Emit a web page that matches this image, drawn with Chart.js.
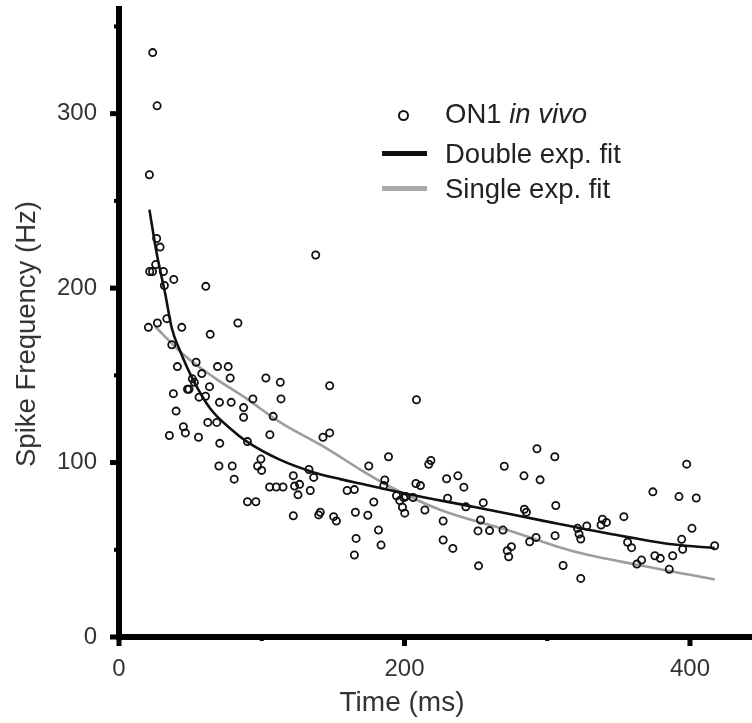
<!DOCTYPE html>
<html>
<head>
<meta charset="utf-8">
<script src="https://cdn.jsdelivr.net/npm/chart.js@4/dist/chart.umd.min.js"></script>
<style>
  body { margin: 0; background: #fff; overflow: hidden; }
  #wrap { position: relative; width: 752px; height: 723px; overflow: hidden; font-family: "Liberation Sans", Arial, Helvetica, sans-serif; }
  #chart-spikes { display: block; }
  .legend-row { position: absolute; left: 445px; height: 30px; line-height: 30px; font-size: 27.5px; color: #222; white-space: nowrap; }
  .legend-line { position: absolute; left: 382px; width: 45px; height: 5px; }
  .legend-dot { position: absolute; left: 398px; top: 110px; width: 7px; height: 7px; border: 2px solid #111; border-radius: 50%; }
  .y-title { position: absolute; left: 26px; top: 334px; transform: translate(-50%, -50%) rotate(-90deg); font-size: 27.5px; color: #333; white-space: nowrap; }
  .x-title { position: absolute; left: 402px; top: 702px; transform: translate(-50%, -50%); font-size: 28px; color: #333; white-space: nowrap; }
</style>
</head>
<body>
<div id="wrap">
  <!-- canvas is a little wider than the page: Chart.js keeps a few px free on the right,
       and the x axis in the figure runs off the edge -->
  <canvas id="chart-spikes" width="760" height="723"></canvas>
  <div class="y-title">Spike Frequency (Hz)</div>
  <div class="x-title">Time (ms)</div>
  <div class="legend-dot"></div>
  <div class="legend-row" style="top:99px">ON1 <i>in vivo</i></div>
  <div class="legend-line" style="top:151px; background:#111"></div>
  <div class="legend-row" style="top:139px">Double exp. fit</div>
  <div class="legend-line" style="top:186px; background:#aaa"></div>
  <div class="legend-row" style="top:174px">Single exp. fit</div>
</div>
<script>
// Scatter of spike frequency vs time, with the two fitted decay curves.

const TIME_MS = [
  23.6, 26.7, 21.3, 137.8, 26.4, 28.8, 25.7, 21.5, 23.5, 31.1, 38.4, 31.8, 60.8, 33.5, 26.9, 20.6, 44, 83.3,
  63.9, 37, 40.9, 54, 69, 76.5, 77.9, 58, 51.4, 52.8, 48, 49, 38.1, 63.4, 56.1, 60.6, 70.4, 78.6, 87.3, 87.3,
  93.8, 102.9, 113, 113.5, 108, 147.6, 40, 45.1, 46.5, 35.3, 55.7, 62.2, 68.5, 70.6, 90, 105.7, 142.9, 147.6,
  70, 79.3, 80.7, 97.1, 99.4, 99.9, 122.1, 126.5, 123, 125.4, 133.1, 136.4, 134, 105.5, 110.2, 114.9, 159.8,
  164.9, 90, 95.9, 122.1, 139.9, 141, 150.4, 152.3, 165.6, 166.1, 164.9,
  175, 188.8, 186.2, 185.5, 178.5, 174.3, 181.8, 183.6, 194.4, 196.7, 199.5, 198.6, 200.2, 200.9, 208.4, 206,
  208, 211.2, 214.3, 217, 218.5, 227.1, 227.1, 233.9, 229.5, 237.4, 241.6, 230.2, 243, 255.2, 253.3, 251.5,
  259.6, 251.9, 269, 269.9, 283.7, 295, 292.8, 305.3, 284, 285.4, 306, 305.5, 274.9, 272, 273, 287.7, 292.2,
  311.1, 323.5, 321.2, 322.3, 323.5, 327.7, 338.7, 341.5, 337.7, 353.7, 356.3, 359.1, 362.8, 366.1, 374,
  375.4, 379.2, 387.9, 385.5, 397.7, 392.3, 404.4, 401.4, 394.2, 394.9, 417.3
];
const SPIKE_HZ = [
  335, 304.5, 265, 219, 228.5, 223.5, 213.5, 209.5, 209.5, 209.5, 205, 201.5, 201, 182.5, 180, 177.5, 177.5, 180,
  173.5, 167.5, 155, 157.5, 155, 155, 148.5, 151, 148, 146, 142, 142, 139.5, 143.5, 137.5, 138, 134.5, 134.5, 131.5, 126,
  136.5, 148.5, 146, 136.5, 126.5, 144, 129.5, 120.5, 117, 115.5, 114.5, 123, 123, 111, 112, 116, 114.5, 117,
  98, 98, 90.5, 98, 102, 95.5, 92.5, 87.5, 86.5, 81.5, 96, 91.5, 84, 86, 86, 86, 84,
  84.5, 77.5, 77.5, 69.5, 70, 71.5, 69, 66.5, 71.5, 56.5, 47,
  98, 103.3, 90, 86.8, 77.4, 69.8, 61.3, 52.7, 81, 78.2, 79.9, 74.4, 71, 80.5, 136, 80,
  88, 86.8, 72.8, 99, 101.2, 66.5, 55.6, 50.8, 90.7, 92.4, 85.9, 79.6, 74.6, 77, 67.1, 60.8,
  61, 40.8, 61.3, 97.9, 92.4, 90.1, 107.9, 103.3, 73.2, 71.5, 75.4, 58.1, 51.8, 49.5, 46, 54.6, 57.1,
  41, 33.6, 62.3, 59, 56.2, 63.6, 67.5, 65.7, 64.2, 69, 54.3, 51.2, 41.8, 44.1, 83.2,
  46.6, 45.1, 46.6, 38.8, 99.1, 80.5, 79.7, 62.3, 56, 50.3, 52.3
];

// fitted curves
const DOUBLE_FIT_X = [21.3, 26.4, 32.3, 37, 42.8, 52.2, 63.9, 77.9, 89.6, 113, 136, 155, 169, 202, 249, 295, 342, 389, 417.3];
const DOUBLE_FIT_Y = [245, 220, 197, 177, 164, 147, 131, 119.5, 112, 101.5, 94.5, 90.5, 88, 82, 74.5, 67, 59.5, 53, 51];
const SINGLE_FIT_X = [25.3, 45.1, 66.2, 89.6, 113, 145.7, 169, 190.2, 225.3, 272, 318.8, 365.6, 417.3];
const SINGLE_FIT_Y = [178, 162, 149, 136.5, 123, 108, 96, 86, 72.8, 61.3, 49, 41, 33];

const X_TICK_LABELS = [0, 200, 400];
const X_MINOR_TICKS = [100, 300];
const Y_TICK_LABELS = [0, 100, 200, 300];
const Y_MINOR_TICKS = [50, 150, 250, 350];

const TEXT_FONT = "'Liberation Sans', Arial, Helvetica, sans-serif";

function toXY(xs, ys) {
  return xs.map((x, i) => ({ x, y: ys[i] }));
}

// fixed scale sizes, and no extra room for overhanging labels
function fixScale(size) {
  return (scale) => {
    if (scale.isHorizontal()) scale.height = size;
    else scale.width = size;
    scale.paddingTop = 0;
    scale.paddingBottom = 0;
    scale.paddingLeft = 0;
    scale.paddingRight = 0;
  };
}

/* tick marks: long for labelled values, short stubs for the minor ones */
const axisTicksPlugin = {
  id: "axisTicks",
  afterDraw(chart) {
    const { ctx, scales } = chart;
    const xs = scales.x;
    const ys = scales.y;
    const axisX = ys.right;
    const axisY = xs.top;
    ctx.save();
    ctx.fillStyle = "#000";
    Y_TICK_LABELS.forEach((v) => {
      const p = ys.getPixelForValue(v);
      ctx.fillRect(axisX - 9, p - 2.5, 9, 5);
    });
    Y_MINOR_TICKS.forEach((v) => {
      const p = ys.getPixelForValue(v);
      ctx.fillRect(axisX - 5, p - 2, 5, 4);
    });
    X_TICK_LABELS.forEach((v) => {
      const p = xs.getPixelForValue(v);
      ctx.fillRect(p - 2.5, axisY, 5, 9);
    });
    X_MINOR_TICKS.forEach((v) => {
      const p = xs.getPixelForValue(v);
      ctx.fillRect(p - 2, axisY, 4, 4);
    });
    ctx.restore();
  }
};

new Chart(document.getElementById("chart-spikes").getContext("2d"), {
  data: {
    datasets: [
      {
        type: "scatter",
        data: toXY(TIME_MS, SPIKE_HZ),
        pointStyle: "circle",
        pointRadius: 3.6,
        pointBorderWidth: 1.8,
        pointBorderColor: "#111",
        pointBackgroundColor: "rgba(0,0,0,0)"
      },
      {
        type: "line",
        data: toXY(DOUBLE_FIT_X, DOUBLE_FIT_Y),
        borderColor: "#111",
        borderWidth: 2.6,
        pointRadius: 0,
        cubicInterpolationMode: "monotone",
        fill: false
      },
      {
        type: "line",
        data: toXY(SINGLE_FIT_X, SINGLE_FIT_Y),
        borderColor: "#9d9d9d",
        borderWidth: 2.6,
        pointRadius: 0,
        cubicInterpolationMode: "monotone",
        fill: false
      }
    ]
  },
  options: {
    responsive: false,
    animation: false,
    layout: { padding: { top: 9, right: 0, bottom: 0, left: 0 } },
    plugins: { legend: { display: false }, tooltip: { enabled: false } },
    scales: {
      x: {
        type: "linear",
        min: 0,
        max: 445,
        afterFit: fixScale(86),
        border: { display: true, width: 6, color: "#000" },
        grid: { display: true, drawOnChartArea: false, drawTicks: false, lineWidth: 1 },
        ticks: {
          stepSize: 100,
          autoSkip: false,
          maxRotation: 0,
          padding: 18,
          color: "#333",
          font: { family: TEXT_FONT, size: 24 },
          callback: (v) => (X_TICK_LABELS.includes(v) ? String(v) : "")
        }
      },
      y: {
        type: "linear",
        min: 0,
        max: 360,
        afterFit: fixScale(119),
        border: { display: true, width: 6, color: "#000" },
        grid: { display: true, drawOnChartArea: false, drawTicks: false, lineWidth: 1 },
        ticks: {
          stepSize: 50,
          autoSkip: false,
          padding: 22,
          color: "#333",
          font: { family: TEXT_FONT, size: 24 },
          callback: (v) => (Y_TICK_LABELS.includes(v) ? String(v) : "")
        }
      }
    }
  },
  plugins: [axisTicksPlugin]
});
</script>
</body>
</html>
